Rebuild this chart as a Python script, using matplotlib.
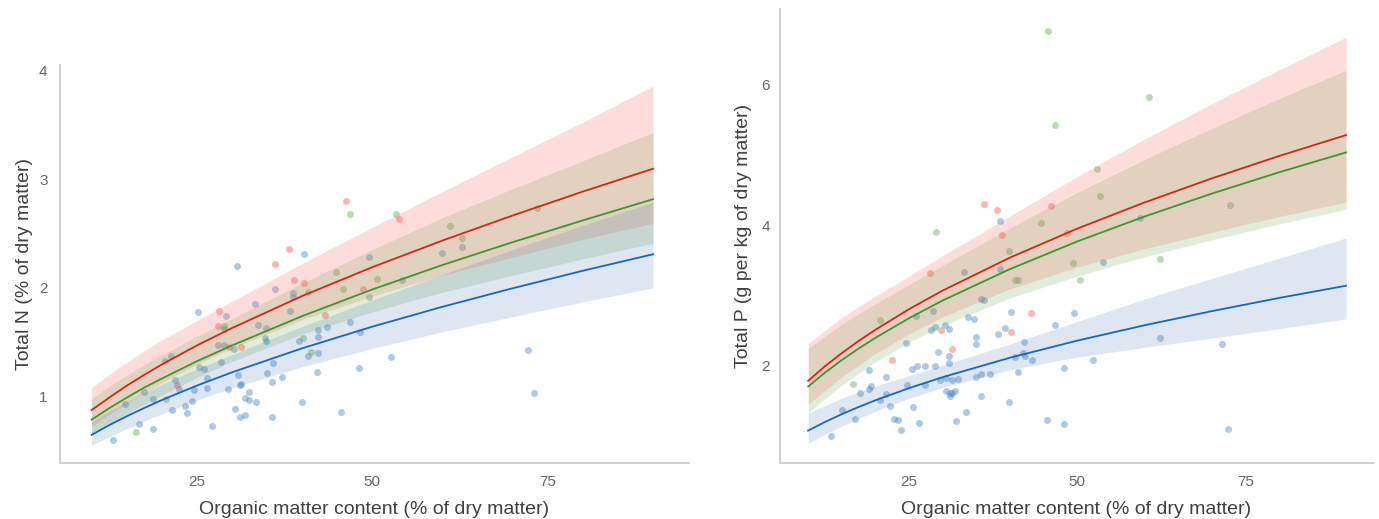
import matplotlib.pyplot as plt
import numpy as np

plt.rcParams['font.family'] = ['Liberation Sans', 'DejaVu Sans']

# ---- fitted curves ----
fit_x = [10, 12.5, 15, 17.5, 20, 25, 30, 40, 50, 60, 70, 80, 90]

# Total N
n_red = [0.876, 0.99, 1.10, 1.20, 1.295, 1.47, 1.63, 1.925, 2.19, 2.435, 2.665, 2.885, 3.095]
n_red_lo = [0.724, 0.834, 0.937, 1.034, 1.126, 1.297, 1.446, 1.708, 1.923, 2.116, 2.282, 2.446, 2.593]
n_red_hi = [1.081, 1.205, 1.317, 1.422, 1.520, 1.699, 1.875, 2.225, 2.557, 2.886, 3.206, 3.523, 3.857]
n_green = [0.787, 0.893, 0.99, 1.083, 1.165, 1.325, 1.47, 1.74, 1.985, 2.21, 2.42, 2.62, 2.815]
n_green_lo = [0.645, 0.746, 0.840, 0.929, 1.012, 1.175, 1.323, 1.575, 1.779, 1.960, 2.115, 2.266, 2.410]
n_green_hi = [0.981, 1.094, 1.197, 1.292, 1.381, 1.555, 1.717, 2.043, 2.352, 2.646, 2.911, 3.168, 3.429]
n_blue = [0.648, 0.737, 0.819, 0.895, 0.968, 1.101, 1.223, 1.444, 1.643, 1.826, 1.996, 2.157, 2.309]
n_blue_lo = [0.552, 0.631, 0.705, 0.775, 0.841, 0.967, 1.079, 1.274, 1.443, 1.596, 1.735, 1.872, 2.0]
n_blue_hi = [0.768, 0.864, 0.952, 1.035, 1.113, 1.254, 1.386, 1.645, 1.889, 2.122, 2.353, 2.575, 2.789]

# Total P
p_red = [1.780, 1.988, 2.175, 2.348, 2.508, 2.801, 3.066, 3.535, 3.948, 4.320, 4.663, 4.982, 5.281]
p_red_lo = [1.444, 1.645, 1.836, 2.005, 2.169, 2.448, 2.692, 3.090, 3.399, 3.663, 3.894, 4.120, 4.325]
p_red_hi = [2.309, 2.50, 2.684, 2.838, 2.987, 3.272, 3.563, 4.129, 4.690, 5.223, 5.726, 6.208, 6.675]
p_green = [1.699, 1.897, 2.076, 2.240, 2.393, 2.672, 2.925, 3.371, 3.765, 4.120, 4.446, 4.750, 5.034]
p_green_lo = [1.325, 1.525, 1.717, 1.885, 2.048, 2.330, 2.568, 2.960, 3.272, 3.547, 3.788, 4.014, 4.224]
p_green_hi = [2.238, 2.415, 2.587, 2.735, 2.879, 3.150, 3.425, 3.957, 4.462, 4.932, 5.375, 5.800, 6.202]
p_blue = [1.071, 1.194, 1.305, 1.407, 1.503, 1.676, 1.832, 2.109, 2.352, 2.571, 2.772, 2.960, 3.135]
p_blue_lo = [0.894, 1.017, 1.134, 1.243, 1.347, 1.532, 1.685, 1.938, 2.117, 2.257, 2.387, 2.522, 2.662]
p_blue_hi = [1.322, 1.425, 1.532, 1.62, 1.703, 1.852, 2.004, 2.303, 2.625, 2.944, 3.238, 3.525, 3.815]

# ---- observations ----
n_blue_x = [30.7, 36.1, 25.2, 29.2, 33.3, 28.9, 33.7, 34.8, 28.0, 28.9, 30.3, 34.7, 34.9,
            21.3, 20.5, 25.3, 26.0, 28.5, 35.8, 21.9, 22.5, 26.5, 26.5, 30.9, 31.1, 31.3,
            29.5, 35.0, 35.7, 17.4, 18.7, 14.8, 24.6, 24.3, 23.3, 23.6, 21.4, 31.8, 32.4,
            32.5, 33.4, 30.4, 31.1, 31.9, 35.7, 27.2, 16.7, 18.7, 13.1, 37.2, 38.3, 38.7,
            38.7, 39.5, 40.0, 40.9, 42.1, 42.3, 42.3, 43.5, 45.6, 46.8, 48.1, 48.3, 52.7,
            40.2, 49.5, 54.2, 59.9, 62.8, 72.2, 73.1, 42.3]
n_blue_y = [2.20, 1.99, 1.78, 1.74, 1.85, 1.62, 1.66, 1.63, 1.47, 1.47, 1.44, 1.54, 1.51,
            1.37, 1.33, 1.27, 1.25, 1.32, 1.31, 1.15, 1.07, 1.17, 1.08, 1.20, 1.11, 1.12,
            1.07, 1.22, 1.13, 1.04, 0.98, 0.93, 1.06, 0.96, 0.91, 0.85, 0.88, 0.99, 1.04,
            0.97, 0.95, 0.89, 0.81, 0.83, 0.81, 0.73, 0.75, 0.70, 0.60, 1.18, 1.79, 1.95,
            1.92, 1.51, 0.95, 1.37, 1.23, 1.61, 1.40, 1.64, 0.86, 1.69, 1.26, 1.59, 1.36,
            2.31, 2.28, 2.07, 2.32, 2.38, 1.43, 1.03, 1.55]
n_red_x = [36.1, 38.2, 28.1, 28.0, 29.6, 31.3, 22.2, 38.9, 40.3, 46.3, 43.2, 48.7, 53.8]
n_red_y = [2.22, 2.36, 1.79, 1.65, 1.46, 1.46, 1.11, 2.07, 2.04, 2.80, 1.75, 1.99, 2.63]
n_green_x = [28.9, 16.3, 20.6, 46.8, 44.8, 45.8, 49.6, 50.6, 53.4, 61.1, 62.8, 73.4,
             40.1, 41.2, 40.9]
n_green_y = [1.65, 0.67, 0.98, 2.68, 2.15, 1.99, 1.92, 2.08, 2.68, 2.57, 2.46, 2.73,
             1.54, 1.41, 1.96]

p_blue_x = [38.6, 33.2, 38.6, 35.7, 36.2, 28.6, 26.0, 33.7, 34.7, 28.2, 28.9, 30.3, 31.0,
            24.5, 29.3, 30.9, 30.9, 19.0, 25.5, 26.2, 27.3, 28.9, 34.9, 34.9, 38.2, 21.5,
            19.4, 19.0, 17.7, 20.7, 21.6, 22.1, 24.7, 27.3, 29.6, 30.5, 31.4, 32.3, 35.0,
            35.7, 37.1, 30.5, 31.1, 31.4, 31.9, 31.1, 35.7, 25.6, 15.1, 17.0, 22.7, 23.4,
            23.8, 26.5, 32.0, 33.4, 13.4, 59.4, 53.8, 40.2, 49.5, 39.3, 46.7, 42.1, 40.8,
            41.9, 42.2, 43.3, 52.4, 62.4, 41.2, 48.1, 39.9, 45.5, 48.0, 71.5, 72.5]
p_blue_y = [4.05, 3.33, 3.37, 2.94, 2.93, 2.78, 2.70, 2.69, 2.66, 2.51, 2.54, 2.58, 2.52,
            2.32, 2.19, 2.13, 2.03, 1.94, 1.95, 1.99, 1.99, 1.99, 2.40, 2.30, 2.45, 1.83,
            1.71, 1.66, 1.60, 1.51, 1.59, 1.42, 1.72, 1.72, 1.79, 1.82, 1.79, 1.81, 1.83,
            1.88, 1.88, 1.63, 1.60, 1.61, 1.63, 1.56, 1.56, 1.41, 1.36, 1.23, 1.23, 1.22,
            1.08, 1.18, 1.21, 1.33, 0.99, 4.10, 3.47, 2.76, 2.75, 2.53, 2.57, 2.33, 2.12,
            2.18, 2.13, 2.08, 2.08, 2.39, 1.91, 1.96, 1.48, 1.22, 1.17, 2.31, 1.10]
p_red_x = [36.1, 38.1, 28.1, 29.7, 31.4, 22.4, 38.9, 46.1, 48.5, 43.1, 40.2]
p_red_y = [4.30, 4.22, 3.31, 2.51, 2.23, 2.07, 3.86, 4.27, 3.88, 2.74, 2.48]
p_green_x = [29.0, 20.7, 16.6, 53.0, 53.4, 44.6, 39.9, 40.8, 41.2, 49.4, 50.4, 62.4,
             45.7, 46.7, 60.7, 72.7]
p_green_y = [3.90, 2.64, 1.73, 4.80, 4.42, 4.03, 3.63, 3.22, 3.22, 3.46, 3.22, 3.51,
             6.77, 5.43, 5.83, 4.28]

pt_colors = {'blue': '#3f7fc4', 'red': '#ff4a4a', 'green': '#5aa84a'}
line_colors = {'blue': '#1468c0', 'red': '#d8231c', 'green': '#3f962f'}
band_colors = {'red': ('#ff6a6a', 0.23), 'green': ('#6aa64a', 0.2), 'blue': ('#4a78b4', 0.18)}

fig = plt.figure(figsize=(13.79, 5.19), dpi=100)
ax1 = fig.add_axes([0.0435, 0.108, 0.456, 0.767])
ax2 = fig.add_axes([0.5656, 0.108, 0.430, 0.875])


def draw_panel(ax, pts, curves):
    for name, (xs, ys) in pts.items():
        ax.scatter(xs, ys, s=25, color=pt_colors[name], alpha=0.42, linewidths=0, zorder=1)
    for name, (mid, lo, hi) in curves.items():
        c, a = band_colors[name]
        ax.fill_between(fit_x, lo, hi, color=c, alpha=a, linewidth=0, zorder=2)
    for name, (mid, lo, hi) in curves.items():
        ax.plot(fit_x, mid, color=line_colors[name], lw=1.3, zorder=3)
    for s in ['top', 'right']:
        ax.spines[s].set_visible(False)
    for s in ['left', 'bottom']:
        ax.spines[s].set_color('#cfcfcf')
        ax.spines[s].set_linewidth(1.4)
    ax.tick_params(length=0, labelsize=11, labelcolor='#666666')
    ax.tick_params(axis='x', pad=9)
    ax.set_xticks([25, 50, 75])
    ax.set_xlabel('Organic matter content (% of dry matter)', fontsize=14,
                  color='#404040', labelpad=8)


draw_panel(ax1,
           {'blue': (n_blue_x, n_blue_y), 'red': (n_red_x, n_red_y), 'green': (n_green_x, n_green_y)},
           {'red': (n_red, n_red_lo, n_red_hi), 'green': (n_green, n_green_lo, n_green_hi),
            'blue': (n_blue, n_blue_lo, n_blue_hi)})
ax1.set_xlim(5.5, 95.1)
ax1.set_ylim(0.39, 4.05)
ax1.set_yticks([1, 2, 3, 4])
ax1.tick_params(axis='y', pad=9)
ax1.set_ylabel('Total N (% of dry matter)', fontsize=14, color='#404040', labelpad=4)

draw_panel(ax2,
           {'blue': (p_blue_x, p_blue_y), 'red': (p_red_x, p_red_y), 'green': (p_green_x, p_green_y)},
           {'red': (p_red, p_red_lo, p_red_hi), 'green': (p_green, p_green_lo, p_green_hi),
            'blue': (p_blue, p_blue_lo, p_blue_hi)})
ax2.set_xlim(5.8, 94)
ax2.set_ylim(0.61, 7.08)
ax2.set_yticks([2, 4, 6])
ax2.tick_params(axis='y', pad=7)
ax2.set_ylabel('Total P (g per kg of dry matter)', fontsize=14, color='#404040', labelpad=7)

fig.savefig('out.png', dpi=100)
